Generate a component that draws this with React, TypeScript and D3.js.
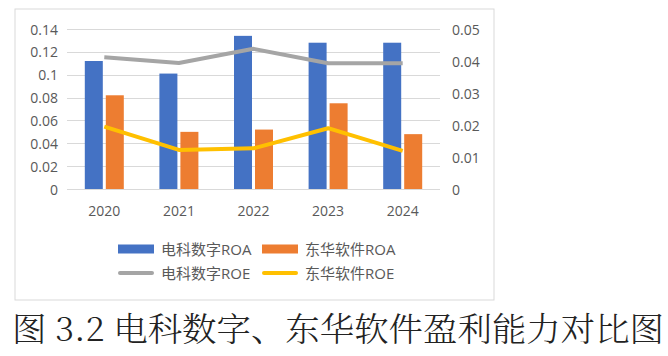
import React from "react";
import * as d3 from "d3";

const years = ["2020", "2021", "2022", "2023", "2024"];
const dkRoa = [0.112, 0.101, 0.134, 0.128, 0.128];
const dhRoa = [0.082, 0.05, 0.052, 0.075, 0.048];
const dkRoe = [0.0412, 0.0394, 0.0438, 0.0393, 0.0393];
const dhRoe = [0.0195, 0.0122, 0.0127, 0.019, 0.0119];
const leftTicks = [0, 0.02, 0.04, 0.06, 0.08, 0.1, 0.12, 0.14];
const rightTicks = [0, 0.01, 0.02, 0.03, 0.04, 0.05];
const legendItems = [
  { name: "电科数字ROA", kind: "bar", color: "#4472C4" },
  { name: "东华软件ROA", kind: "bar", color: "#ED7D31" },
  { name: "电科数字ROE", kind: "line", color: "#A5A5A5" },
  { name: "东华软件ROE", kind: "line", color: "#FFC000" },
];
const caption = "图 3.2 电科数字、东华软件盈利能力对比图";

const font = "'Open Sans', 'Noto Sans CJK SC', sans-serif";

export default function App() {
  const W = 668, H = 356;
  const x0 = 67, x1 = 440, yTop = 29, yBot = 189;
  const x = d3.scaleBand<string>().domain(years).range([x0, x1]).padding(0);
  const yL = d3.scaleLinear().domain([0, 0.14]).range([yBot, yTop]);
  const yR = d3.scaleLinear().domain([0, 0.05]).range([yBot, yTop]);
  const bw = 18, gap = 3;
  const cx = (y: string) => (x(y) as number) + x.bandwidth() / 2;
  const line = (vals: number[]) =>
    d3.line<number>().x((_, i) => cx(years[i])).y((d) => yR(d))(vals) as string;
  const fmt = (v: number) => (v === 0 ? "0" : String(+v.toFixed(2)));

  return (
    <svg width={W} height={H} style={{ position: "absolute", left: 0, top: 0, background: "#fff" }}>
      <rect x={0} y={0} width={W} height={H} fill="#fff" />
      <rect x={15} y={9} width={479} height={291} fill="#fff" stroke="#d9d9d9" strokeWidth={1} />
      {leftTicks.map((t) => (
        <line key={"g" + t} x1={x0} x2={x1} y1={Math.round(yL(t)) + 0.5} y2={Math.round(yL(t)) + 0.5} stroke="#d9d9d9" strokeWidth={1} />
      ))}
      {leftTicks.map((t) => (
        <text key={"l" + t} x={58} y={yL(t)} textAnchor="end" dominantBaseline="central" fontFamily={font} fontSize={14} fill="#595959">
          {fmt(t)}
        </text>
      ))}
      {rightTicks.map((t) => (
        <text key={"r" + t} x={452} y={yR(t)} textAnchor="start" dominantBaseline="central" fontFamily={font} fontSize={14} fill="#595959">
          {fmt(t)}
        </text>
      ))}
      {years.map((yr, i) => (
        <g key={yr}>
          <rect x={cx(yr) - bw - gap / 2} y={yL(dkRoa[i])} width={bw} height={yBot - yL(dkRoa[i])} fill="#4472C4" />
          <rect x={cx(yr) + gap / 2} y={yL(dhRoa[i])} width={bw} height={yBot - yL(dhRoa[i])} fill="#ED7D31" />
          <text x={cx(yr)} y={210} textAnchor="middle" dominantBaseline="central" fontFamily={font} fontSize={14} fill="#595959">
            {yr}
          </text>
        </g>
      ))}
      <path d={line(dkRoe)} fill="none" stroke="#A5A5A5" strokeWidth={4} strokeLinejoin="round" />
      <path d={line(dhRoe)} fill="none" stroke="#FFC000" strokeWidth={4} strokeLinejoin="round" />
      {legendItems.map((it, i) => {
        const lx = i % 2 === 0 ? 118 : 262;
        const ly = i < 2 ? 249 : 273;
        return (
          <g key={it.name}>
            {it.kind === "bar" ? (
              <rect x={lx} y={ly - 4.5} width={36} height={9} fill={it.color} />
            ) : (
              <line x1={lx + 2} x2={lx + 34} y1={ly} y2={ly} stroke={it.color} strokeWidth={4} strokeLinecap="round" />
            )}
            <text x={lx + 43} y={ly} dominantBaseline="central" fontFamily={font} fontSize={15} fill="#595959">
              {it.name}
            </text>
          </g>
        );
      })}
      <text x={12} y={341} fontFamily="'Noto Serif CJK SC', 'Liberation Serif', 'Noto Sans CJK SC', serif" fontSize={33} fontWeight={300} fill="#222" textLength={652} lengthAdjust="spacingAndGlyphs">
        {caption}
      </text>
    </svg>
  );
}
